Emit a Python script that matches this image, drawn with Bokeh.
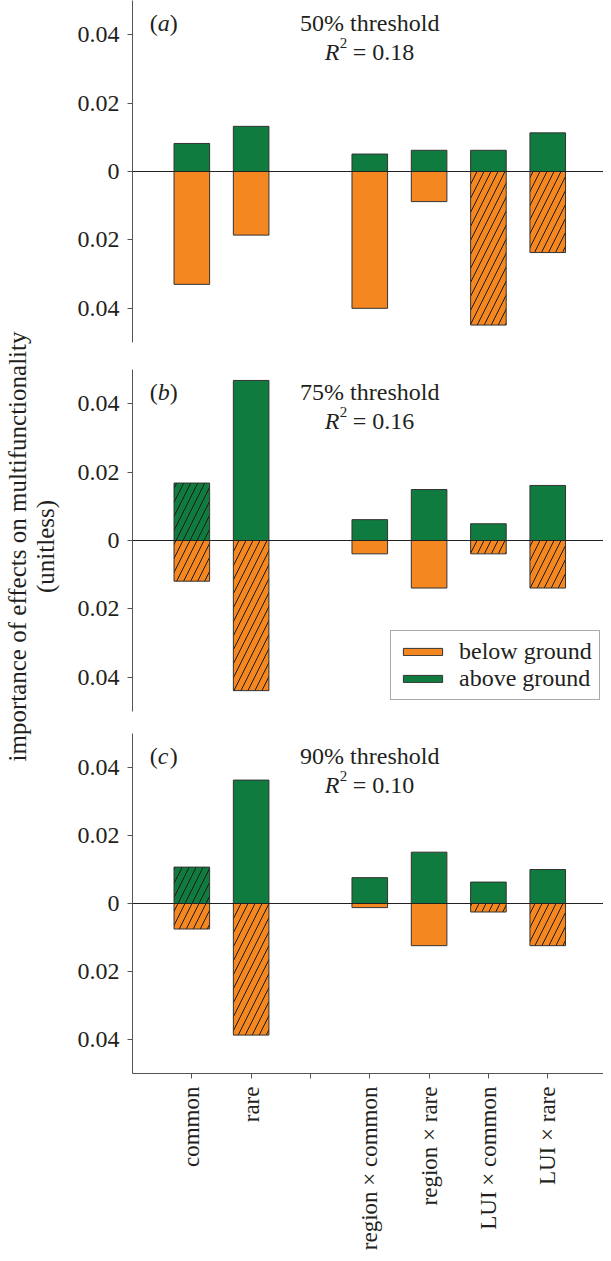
import math
from bokeh.plotting import figure
from bokeh.models import (Range1d, FixedTicker, Span, Legend, LegendItem,
                          ColumnDataSource, CustomJSTickFormatter)
from bokeh.layouts import row, column
from bokeh.embed import file_html
from bokeh.resources import INLINE
from bokeh.core.properties import value

# ---------------- data ----------------
categories = ["common", "rare", "", "region × common", "region × rare",
              "LUI × common", "LUI × rare"]

panel_letters = ["a", "b", "c"]
thresholds = ["50% threshold", "75% threshold", "90% threshold"]
r2_values = ["0.18", "0.16", "0.10"]

above_a = [0.0082, 0.0132, 0.0051, 0.0062, 0.0062, 0.0113]
below_a = [0.0330, 0.0186, 0.0400, 0.0088, 0.0449, 0.0237]
above_hatched_a = [0, 0, 0, 0, 0, 0]
below_hatched_a = [0, 0, 0, 0, 1, 1]

above_b = [0.0168, 0.0468, 0.0061, 0.0149, 0.0049, 0.0161]
below_b = [0.0119, 0.0439, 0.0039, 0.0139, 0.0039, 0.0139]
above_hatched_b = [1, 0, 0, 0, 0, 0]
below_hatched_b = [1, 1, 0, 0, 1, 1]

above_c = [0.0107, 0.0363, 0.0076, 0.0151, 0.0063, 0.0100]
below_c = [0.0075, 0.0387, 0.0012, 0.0124, 0.0025, 0.0124]
above_hatched_c = [1, 0, 0, 0, 0, 0]
below_hatched_c = [1, 1, 0, 0, 1, 1]

y_ticks = [-0.04, -0.02, 0, 0.02, 0.04]
legend_labels = ["below ground", "above ground"]
y_label_lines = ["importance of effects on multifunctionality", "(unitless)"]

# ---------------- style ----------------
FONT = "Liberation Serif"
ORANGE = "#F4871F"
GREEN = "#0F7B3F"
EDGE = "#333333"
TXT = "#231F20"
AXC = "#555555"
FS = "24px"

xs = [i + 1 for i, c in enumerate(categories) if c]


def make_panel(letter, threshold, r2, above, below, ah, bh,
               height, top, bottom, show_x):
    p = figure(width=535, height=height,
               x_range=Range1d(0, 7.94), y_range=Range1d(-0.05, 0.05),
               output_backend="svg", toolbar_location=None,
               min_border_left=64, min_border_right=0,
               min_border_top=top, min_border_bottom=bottom,
               x_axis_location="below" if show_x else None,
               outline_line_color=None)
    p.grid.visible = False

    renderers = {}
    for side, vals, flags, color in (("above", above, ah, GREEN),
                                     ("below", below, bh, ORANGE)):
        for hatched in (False, True):
            sel = [k for k in range(len(vals)) if bool(flags[k]) == hatched]
            if side == "above":
                tops = [vals[k] for k in sel]
                bots = [0.0] * len(sel)
            else:
                tops = [0.0] * len(sel)
                bots = [-vals[k] for k in sel]
            src = ColumnDataSource(dict(x=[xs[k] for k in sel], top=tops, bottom=bots))
            kw = {}
            if hatched:
                kw = dict(hatch_pattern="/", hatch_color="#1a1a1a",
                          hatch_scale=14, hatch_weight=1)
            r = p.vbar(x="x", top="top", bottom="bottom", width=0.6, source=src,
                       fill_color=color, line_color=EDGE, line_width=1, **kw)
            renderers[(side, hatched)] = r

    p.add_layout(Span(location=0, dimension="width", line_color="#222222",
                      line_width=1))

    # y axis
    ya = p.yaxis[0]
    ya.ticker = FixedTicker(ticks=y_ticks)
    ya.formatter = CustomJSTickFormatter(
        code="return tick == 0 ? '0' : Math.abs(tick).toFixed(2);")
    ya.minor_tick_line_color = None
    ya.major_tick_out = 5
    ya.major_tick_in = 0
    ya.axis_line_color = AXC
    ya.major_tick_line_color = AXC
    ya.major_label_text_font = FONT
    ya.major_label_text_font_size = FS
    ya.major_label_text_color = TXT
    ya.major_label_standoff = 8

    if show_x:
        xa = p.xaxis[0]
        xa.ticker = FixedTicker(ticks=[i + 1 for i in range(len(categories))])
        xa.major_label_overrides = {i + 1: c for i, c in enumerate(categories)}
        xa.major_label_orientation = math.pi / 2
        xa.minor_tick_line_color = None
        xa.major_tick_out = 5
        xa.major_tick_in = 0
        xa.axis_line_color = AXC
        xa.major_tick_line_color = AXC
        xa.major_label_text_font = FONT
        xa.major_label_text_font_size = "23px"
        xa.major_label_text_color = TXT
        xa.major_label_standoff = 8

    # panel annotations
    base = 0.0435
    p.text(x=[0.29, 0.29], y=[base] * 2, text=["(", ")"],
           x_offset=[0, 20], text_font=value(FONT), text_font_size=FS,
           text_color=TXT, text_align="left", text_baseline="alphabetic")
    p.text(x=[0.29], y=[base], text=[letter], x_offset=[8],
           text_font=value(FONT), text_font_size=FS, text_color=TXT,
           text_align="left", text_baseline="alphabetic",
           text_font_style="italic")
    p.text(x=[4], y=[base], text=[threshold], text_font=value(FONT),
           text_font_size=FS, text_color=TXT, text_align="center",
           text_baseline="alphabetic")
    p.text(x=[4], y=[0.0349], text=["R"], x_offset=[-45], text_font=value(FONT),
           text_font_size=FS, text_color=TXT, text_align="left",
           text_baseline="alphabetic", text_font_style="italic")
    p.text(x=[4], y=[0.0375], text=["2"], x_offset=[-30], text_font=value(FONT),
           text_font_size="15px", text_color=TXT, text_align="left",
           text_baseline="alphabetic")
    p.text(x=[4], y=[0.0349], text=["= " + r2], x_offset=[-17],
           text_font=value(FONT), text_font_size=FS, text_color=TXT,
           text_align="left", text_baseline="alphabetic")
    return p, renderers


pa, ra = make_panel(panel_letters[0], thresholds[0], r2_values[0], above_a, below_a,
                    above_hatched_a, below_hatched_a, 355, 0, 13, False)
pb, rb = make_panel(panel_letters[1], thresholds[1], r2_values[1], above_b, below_b,
                    above_hatched_b, below_hatched_b, 367, 14, 11, False)
pc, rc = make_panel(panel_letters[2], thresholds[2], r2_values[2], above_c, below_c,
                    above_hatched_c, below_hatched_c, 531, 11, 178, True)

legend = Legend(items=[LegendItem(label=legend_labels[0], renderers=[rb[("below", False)]]),
                       LegendItem(label=legend_labels[1], renderers=[rb[("above", False)]])],
                location=(258, 11), margin=0, padding=7, spacing=-4,
                glyph_width=49, glyph_height=9, label_height=25, label_standoff=12,
                label_text_font=FONT, label_text_font_size=FS,
                label_text_color=TXT, border_line_color=AXC, border_line_width=1,
                background_fill_color="white", background_fill_alpha=1.0)
pb.add_layout(legend)

# y-axis label figure
lab = figure(width=68, height=1253, x_range=Range1d(0, 68), y_range=Range1d(0, 1253),
             output_backend="svg", toolbar_location=None, min_border=0,
             x_axis_location=None, y_axis_location=None, outline_line_color=None)
lab.grid.visible = False
lab.text(x=[17, 45], y=[1253 - 546, 1253 - 546], text=y_label_lines,
         angle=math.pi / 2, text_font=value(FONT), text_font_size="25px",
         text_color=TXT, text_align="center", text_baseline="middle")

layout = row(lab, column(pa, pb, pc))
open("out.html", "w").write(file_html(layout, INLINE))
